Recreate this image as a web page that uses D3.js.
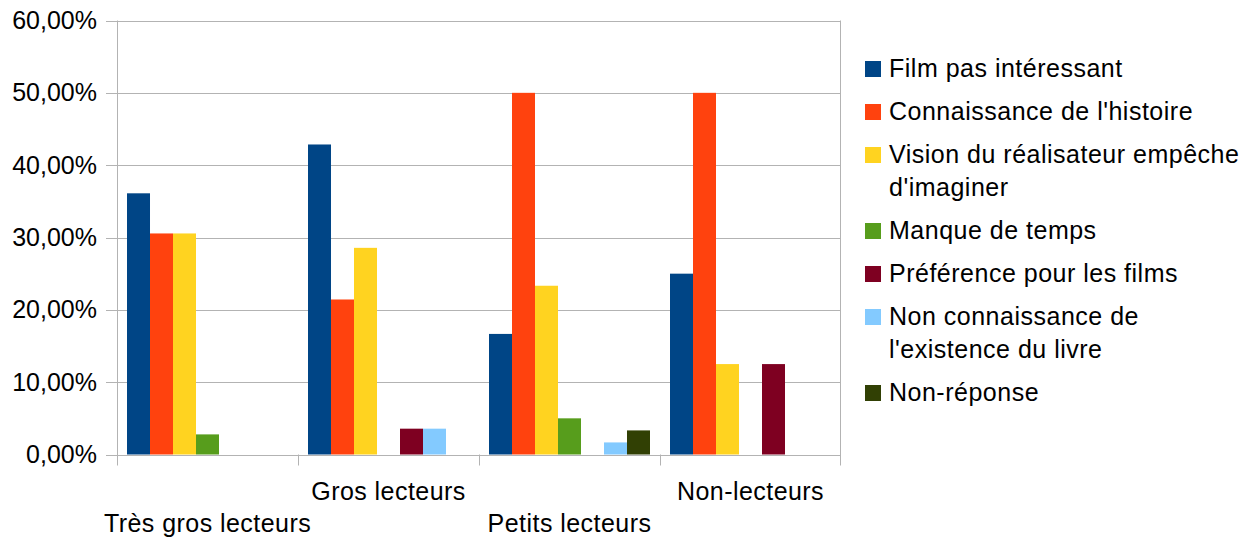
<!DOCTYPE html>
<html><head><meta charset="utf-8">
<script src="https://cdn.jsdelivr.net/npm/d3@7"></script>
<style>
body{margin:0;background:#fff;}
text{font-family:"Liberation Sans",Arial,sans-serif;fill:#000;}
</style></head>
<body><svg id="c" width="1252" height="538"></svg>
<script>
const categories = ["Très gros lecteurs","Gros lecteurs","Petits lecteurs","Non-lecteurs"];
const seriesNames = ["Film pas intéressant","Connaissance de l'histoire","Vision du réalisateur empêche d'imaginer","Manque de temps","Préférence pour les films","Non connaissance de l'existence du livre","Non-réponse"];
const legendLines = [["Film pas intéressant"],["Connaissance de l'histoire"],["Vision du réalisateur empêche","d'imaginer"],["Manque de temps"],["Préférence pour les films"],["Non connaissance de","l'existence du livre"],["Non-réponse"]];
const colors = ["#004586","#ff420e","#ffd320","#579d1c","#7e0021","#83caff","#314004"];
// values per series, one per category (proportions)
const filmPasInteressant = [0.3611,0.4286,0.1667,0.25];
const connaissanceHistoire = [0.3056,0.2143,0.50,0.50];
const visionRealisateur = [0.3056,0.2857,0.2333,0.125];
const manqueTemps = [0.0278,0,0.05,0];
const preferenceFilms = [0,0.0357,0,0.125];
const nonConnaissance = [0,0.0357,0.0167,0];
const nonReponse = [0,0,0.0333,0];
const series = [filmPasInteressant,connaissanceHistoire,visionRealisateur,manqueTemps,preferenceFilms,nonConnaissance,nonReponse];
const yTicks = [0,0.1,0.2,0.3,0.4,0.5,0.6];

const svg = d3.select("#c");
const L=117,R=841,T=20.5,B=454.5;
const x = d3.scaleBand().domain(categories).range([L,R]).paddingInner(0).paddingOuter(0);
const y = d3.scaleLinear().domain([0,0.6]).range([B,T]);
const xs = d3.scaleBand().domain(d3.range(7)).range([0,x.bandwidth()]).paddingInner(0).paddingOuter(0.435);

// gridlines
svg.append("g").selectAll("line").data(yTicks).join("line")
  .attr("x1",106).attr("x2",R).attr("y1",d=>Math.round(y(d))+0.5).attr("y2",d=>Math.round(y(d))+0.5)
  .attr("stroke","#b3b3b3").attr("stroke-width",1);

// bars
series.forEach((vals,si)=>{
  svg.append("g").selectAll("rect").data(vals.map((v,ci)=>({v,c:categories[ci]}))).join("rect")
    .attr("x",d=>x(d.c)+xs(si)).attr("width",xs.bandwidth())
    .attr("y",d=>y(d.v)).attr("height",d=>B-y(d.v))
    .attr("fill",colors[si]);
});

// axes lines
svg.append("line").attr("x1",L+0.5).attr("x2",L+0.5).attr("y1",T).attr("y2",B+11).attr("stroke","#b3b3b3");
svg.append("line").attr("x1",L).attr("x2",R).attr("y1",Math.round(B)+0.5).attr("y2",Math.round(B)+0.5).attr("stroke","#b3b3b3");
svg.append("line").attr("x1",R-0.5).attr("x2",R-0.5).attr("y1",T).attr("y2",B+11).attr("stroke","#b3b3b3");
svg.append("g").selectAll("line").data(categories.slice(1)).join("line")
  .attr("x1",d=>Math.round(x(d))+0.5).attr("x2",d=>Math.round(x(d))+0.5).attr("y1",B).attr("y2",B+11).attr("stroke","#b3b3b3");

// y labels
const fmt = d=> (d*100).toFixed(2).replace(".",",")+"%";
svg.append("g").selectAll("text").data(yTicks).join("text")
  .attr("x",97).attr("y",d=>y(d)+8.5).attr("text-anchor","end").attr("font-size",25).text(fmt);

// x labels (staggered)
svg.append("g").selectAll("text").data(categories).join("text")
  .attr("x",d=>x(d)+x.bandwidth()/2).attr("y",(d,i)=>i%2===0?532:500)
  .attr("text-anchor","middle").attr("font-size",25).attr("letter-spacing",0.45).text(d=>d);

// legend
let ly = 60;
const lg = svg.append("g");
legendLines.forEach((lines,i)=>{
  lg.append("rect").attr("x",865).attr("y",ly+1).attr("width",16).attr("height",16).attr("fill",colors[i]);
  lines.forEach((t,j)=>{
    lg.append("text").attr("x",889).attr("y",ly+17+j*33).attr("font-size",25).attr("letter-spacing",0.5).text(t);
  });
  ly += 43 + (lines.length-1)*33;
});
</script></body></html>
